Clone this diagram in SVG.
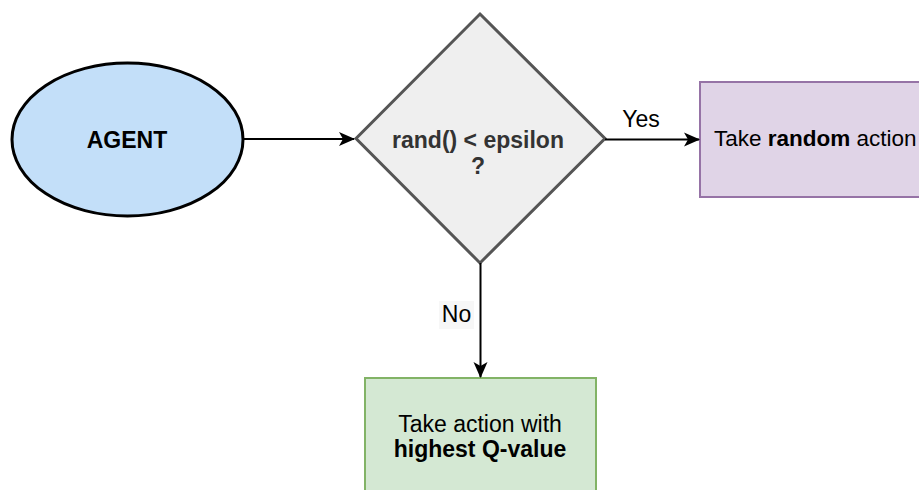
<svg xmlns="http://www.w3.org/2000/svg" width="919" height="490" viewBox="0 0 919 490">
  <style>
    text { font-family: "Liberation Sans", Arial, Helvetica, sans-serif; font-size: 23px; }
    .b { font-weight: bold; }
    .edge { fill: none; stroke: #000; stroke-width: 2; }
    .lbl { fill: #000; font-size: 23px; }
  </style>
  <defs>
    <marker id="arrow" viewBox="0 0 18 18" refX="16" refY="9" markerWidth="18" markerHeight="18" markerUnits="userSpaceOnUse" orient="auto">
      <path d="M1,2 L17,9 L1,16 L5,9 Z" fill="#000"/>
    </marker>
  </defs>

  <rect width="919" height="490" fill="#fff"/>

  <g id="agent">
    <ellipse cx="127.5" cy="139.5" rx="115.5" ry="76.5" fill="#c3dff9" stroke="#000" stroke-width="3"/>
    <text x="127" y="148" text-anchor="middle" class="b" fill="#000">AGENT</text>
  </g>

  <g id="decision">
    <polygon points="480,14 605,138.5 480,263 356,138.5" fill="#efefef" stroke="#555" stroke-width="3" stroke-linejoin="miter"/>
    <text x="478" y="148" text-anchor="middle" class="b" fill="#333">rand() &lt; epsilon</text>
    <text x="478" y="174" text-anchor="middle" class="b" fill="#333">?</text>
  </g>

  <g id="random-action">
    <rect x="700" y="82" width="240" height="115" fill="#e0d4e7" stroke="#9673a6" stroke-width="2"/>
    <text x="714" y="146" style="font-size:22.5px"><tspan>Take </tspan><tspan class="b">random</tspan><tspan> action</tspan></text>
  </g>

  <g id="greedy-action">
    <rect x="365" y="378" width="231" height="130" fill="#d4e8d3" stroke="#82b366" stroke-width="2"/>
    <text x="480" y="432" text-anchor="middle">Take action with</text>
    <text x="480" y="457" text-anchor="middle" class="b">highest Q-value</text>
  </g>

  <g id="connectors">
    <line class="edge" x1="243" y1="139" x2="354" y2="139" marker-end="url(#arrow)"/>
    <line class="edge" x1="605" y1="139.5" x2="699" y2="139.5" marker-end="url(#arrow)"/>
    <text class="lbl" x="641" y="127" text-anchor="middle">Yes</text>
    <line class="edge" x1="480.5" y1="263" x2="480.5" y2="377" marker-end="url(#arrow)"/>
    <rect x="439" y="301" width="35" height="28" fill="#f7f7f7"/>
    <text class="lbl" x="456.5" y="322" text-anchor="middle">No</text>
  </g>
</svg>
